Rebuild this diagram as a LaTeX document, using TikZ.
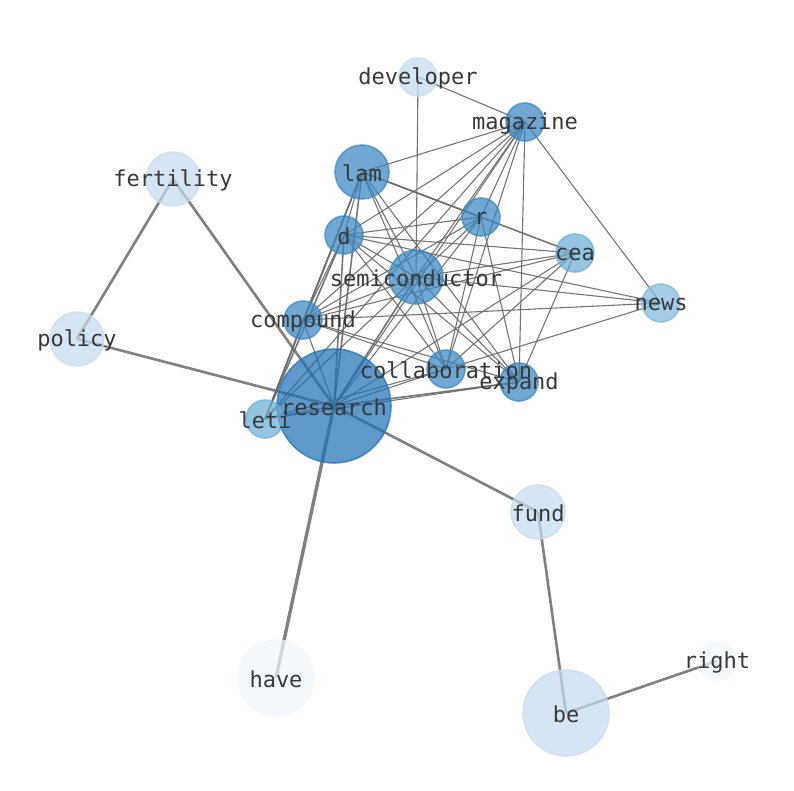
\documentclass[tikz,border=0pt]{standalone}
\usepackage{fontspec}
\setmonofont{DejaVu Sans Mono}
\definecolor{cA}{HTML}{2171B5}
\definecolor{cB}{HTML}{3A87C2}
\definecolor{cC}{HTML}{4F9BD0}
\definecolor{cD}{HTML}{6BAED6}
\definecolor{cE}{HTML}{C6DBEF}
\definecolor{cF}{HTML}{F1F7FD}
\definecolor{edge}{HTML}{808080}
\tikzset{
  nd/.style={circle, inner sep=0pt, opacity=0.72, line width=1.6pt},
  lbl/.style={font=\ttfamily\fontsize{22}{22}\selectfont, text=black!78, inner sep=0pt, yshift=-1.5pt},
  thin/.style={draw=edge!80!black, line width=1.1pt, opacity=0.9},
  med/.style={draw=edge!80!black, line width=1.6pt, opacity=0.9},
  thick/.style={draw=edge, line width=2.6pt},
}
\newcommand{\gnode}[5]{% name, x, y, radius, color
  \node[nd, minimum size=#4*2pt, fill=#5, draw=#5] (#1) at (#2,#3) {};}
\begin{document}
\begin{tikzpicture}[x=1pt,y=-1pt]
\useasboundingbox (0,0) rectangle (794,790);
% coordinates for edges
\foreach \n/\x/\y in {developer/418/77, magazine/525/122, lam/362/172, fertility/173/179,
  r/481/217, d/344/235, cea/575/253, semiconductor/416/277, news/661/303, compound/303/320,
  policy/77/339, collaboration/446/369, expand/519/382, research/334/406, leti/265/419,
  fund/538/512, have/276/678, be/566/713, right/717/661}
  \coordinate (p\n) at (\x,\y);
% thick edges
\foreach \a/\b in {fertility/policy, fertility/research, policy/research, research/fund, fund/be, be/right}
  \draw[thick] (p\a) -- (p\b);
\draw[thick, line width=3.4pt] (presearch) -- (phave);
% medium edges
\foreach \a/\b in {lam/cea, lam/research, d/research, lam/leti, d/leti, semiconductor/research, research/expand}
  \draw[med] (p\a) -- (p\b);
% thin edges
\foreach \a/\b in {developer/magazine, developer/semiconductor,
  magazine/lam, magazine/d, magazine/semiconductor, magazine/compound, magazine/research,
  magazine/collaboration, magazine/expand, magazine/leti, magazine/news, magazine/r,
  lam/d, lam/r, lam/semiconductor, lam/compound, lam/collaboration, lam/expand,
  d/r, d/cea, d/semiconductor, d/news, d/compound, d/collaboration, d/expand,
  r/semiconductor, r/compound, r/research, r/collaboration, r/expand,
  cea/semiconductor, cea/compound, cea/research, cea/collaboration, cea/expand,
  semiconductor/news, semiconductor/compound, semiconductor/collaboration, semiconductor/expand, semiconductor/leti,
  news/compound, news/collaboration,
  compound/research, compound/collaboration, compound/expand, compound/leti,
  collaboration/research, collaboration/leti, expand/leti, research/leti}
  \draw[thin] (p\a) -- (p\b);
% nodes
\gnode{developer}{418}{77}{19}{cE}
\gnode{magazine}{525}{122}{19}{cB}
\gnode{lam}{362}{172}{27}{cB}
\gnode{fertility}{173}{179}{27}{cE}
\gnode{r}{481}{217}{19}{cB}
\gnode{d}{344}{235}{19}{cB}
\gnode{cea}{575}{253}{19}{cD}
\gnode{semiconductor}{416}{277}{27}{cB}
\gnode{news}{661}{303}{19}{cD!75!cE}
\gnode{compound}{303}{320}{19}{cB}
\gnode{policy}{77}{339}{27}{cE}
\gnode{collaboration}{446}{369}{19}{cB}
\gnode{expand}{519}{382}{19}{cB}
\gnode{research}{334}{406}{57}{cA}
\gnode{leti}{265}{419}{19}{cD}
\gnode{fund}{538}{512}{27}{cE}
\gnode{have}{276}{678}{38}{cF}
\gnode{be}{566}{713}{43}{cE}
\gnode{right}{717}{661}{19}{cF}
% labels
\foreach \n in {developer, magazine, lam, fertility, r, d, cea, semiconductor, news, compound,
  policy, collaboration, expand, research, leti, fund, have, be, right}
  \node[lbl] (t\n) at (p\n) {\n};
\end{tikzpicture}
\end{document}
